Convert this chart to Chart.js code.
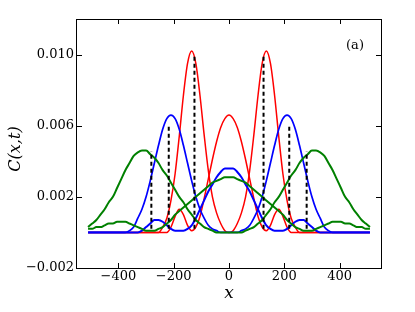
<!DOCTYPE html>
<html>
<head>
<meta charset="utf-8">
<script src="https://cdn.jsdelivr.net/npm/chart.js@4.4.1/dist/chart.umd.min.js"></script>
<style>
  html, body { margin: 0; padding: 0; background: #fff; }
</style>
</head>
<body>
<canvas id="chart" width="415" height="312"></canvas>
<script>
// positions along the chain
const xs = [-510, -495, -480, -465, -450, -435, -420, -405, -390, -375, -360, -345, -330, -315, -300, -285, -270, -255, -240, -225,
  -210, -195, -180, -165, -150, -135, -120, -105, -90, -75, -60, -45, -30, -15, 0, 15, 30, 45, 60, 75,
  90, 105, 120, 135, 150, 165, 180, 195, 210, 225, 240, 255, 270, 285, 300, 315, 330, 345, 360, 375,
  390, 405, 420, 435, 450, 465, 480, 495, 510];

// red: earliest time, two curves
const redPeaks = [0, 0, 0, 0, 0, 0, 0, 0, 0, 0, 0, 0, 0, 0, 0, 0, 0, 0,
  0.0003, 0.0008, 0.0018, 0.0033, 0.0054, 0.0077, 0.0095, 0.0102, 0.0095, 0.0077, 0.0055, 0.0035, 0.0020, 0.0011, 0.0005, 0.0001,
  0.0000,
  0.0001, 0.0005, 0.0011, 0.0020, 0.0035, 0.0055, 0.0077, 0.0095, 0.0102, 0.0095, 0.0077, 0.0054, 0.0033, 0.0018, 0.0008, 0.0003,
  0, 0, 0, 0, 0, 0, 0, 0, 0, 0, 0, 0, 0, 0, 0, 0, 0, 0];
const redCentre = [0, 0, 0, 0, 0, 0, 0, 0, 0, 0, 0, 0, 0, 0, 0, 0, 0, 0, 0, 0,
  0.0003, 0.0009, 0.0013, 0.0010, 0.0004, 0.0001, 0.0003, 0.0009, 0.0019, 0.0030, 0.0041, 0.0051, 0.0059, 0.0064,
  0.0066,
  0.0064, 0.0059, 0.0051, 0.0041, 0.0030, 0.0019, 0.0009, 0.0003, 0.0001, 0.0004, 0.0010, 0.0013, 0.0009, 0.0003,
  0, 0, 0, 0, 0, 0, 0, 0, 0, 0, 0, 0, 0, 0, 0, 0, 0, 0, 0, 0];

// blue: middle time
const bluePeaks = [0, 0, 0, 0, 0, 0, 0, 0, 0, 0,
  0.0001, 0.0003, 0.0008, 0.0013, 0.0020, 0.0029, 0.0039, 0.0049, 0.0058, 0.0064, 0.0066, 0.0064, 0.0058, 0.0049, 0.0039, 0.0029, 0.0020, 0.0013, 0.0008, 0.0004, 0.0002, 0.0001,
  0, 0, 0, 0, 0,
  0.0001, 0.0002, 0.0004, 0.0008, 0.0013, 0.0020, 0.0029, 0.0039, 0.0049, 0.0058, 0.0064, 0.0066, 0.0064, 0.0058, 0.0049, 0.0039, 0.0029, 0.0020, 0.0013, 0.0008, 0.0003, 0.0001,
  0, 0, 0, 0, 0, 0, 0, 0, 0, 0];
const blueCentre = [0, 0, 0, 0, 0, 0, 0, 0, 0, 0, 0, 0, 0,
  0.0001, 0.0003, 0.0005, 0.0007, 0.0007, 0.0006, 0.0004, 0.0002, 0.0001, 0.0001, 0.0001, 0.0002, 0.0004, 0.0008, 0.0013, 0.0018, 0.0023, 0.0027, 0.0031, 0.0034, 0.0036,
  0.0036,
  0.0036, 0.0034, 0.0031, 0.0027, 0.0023, 0.0018, 0.0013, 0.0008, 0.0004, 0.0002, 0.0001, 0.0001, 0.0001, 0.0002, 0.0004, 0.0006, 0.0007, 0.0007, 0.0005, 0.0003, 0.0001,
  0, 0, 0, 0, 0, 0, 0, 0, 0, 0, 0, 0, 0];

// green: latest time
const greenPeaks = [0.0003, 0.0005, 0.0007, 0.0010, 0.0013, 0.0017, 0.0020, 0.0025, 0.0030, 0.0035, 0.0039, 0.0043, 0.0045, 0.0046, 0.0046,
  0.0044, 0.0042, 0.0039, 0.0035, 0.0032, 0.0028, 0.0024, 0.0020, 0.0017, 0.0013, 0.0010, 0.0007, 0.0005, 0.0003, 0.0002, 0.0001,
  0, 0, 0, 0, 0, 0, 0,
  0.0001, 0.0002, 0.0003, 0.0005, 0.0007, 0.0010, 0.0013, 0.0017, 0.0020, 0.0024, 0.0028, 0.0032, 0.0035, 0.0039, 0.0042, 0.0044,
  0.0046, 0.0046, 0.0045, 0.0043, 0.0039, 0.0035, 0.0030, 0.0025, 0.0020, 0.0017, 0.0013, 0.0010, 0.0007, 0.0005, 0.0003];
const greenCentre = [0.0002, 0.0002, 0.0003, 0.0003, 0.0004, 0.0005, 0.0005, 0.0006, 0.0006, 0.0006, 0.0005, 0.0004, 0.0003, 0.0002, 0.0001,
  0.0001, 0.0001, 0.0002, 0.0003, 0.0005, 0.0007, 0.0010, 0.0012, 0.0014, 0.0016, 0.0018, 0.0020, 0.0022, 0.0024, 0.0026, 0.0028, 0.0029, 0.0030, 0.0031,
  0.0031,
  0.0031, 0.0030, 0.0029, 0.0028, 0.0026, 0.0024, 0.0022, 0.0020, 0.0018, 0.0016, 0.0014, 0.0012, 0.0010, 0.0007, 0.0005, 0.0003, 0.0002, 0.0001, 0.0001,
  0.0001, 0.0002, 0.0003, 0.0004, 0.0005, 0.0006, 0.0006, 0.0006, 0.0005, 0.0005, 0.0004, 0.0003, 0.0003, 0.0002, 0.0002];

// light-cone fronts (dashed)
const frontX = [-281, -218, -125, 125, 218, 281];
const frontTop = [0.00455, 0.0061, 0.0100, 0.0100, 0.0061, 0.00455];
const frontBottom = 0.0002;

const xTicks = [-400, -200, 0, 200, 400];
const yTicks = [-0.002, 0.002, 0.006, 0.010];

const serif = "'DejaVu Serif', serif";
const minus = s => s.replace('-', '\u2212');

function curve(ys, color, width) {
  return {
    data: xs.map((x, i) => ({ x: x, y: ys[i] })),
    borderColor: color,
    borderWidth: width,
    pointRadius: 0,
    showLine: true,
    fill: false,
    cubicInterpolationMode: 'monotone'
  };
}

const datasets = [];
frontX.forEach((fx, i) => {
  datasets.push({
    data: [{ x: fx, y: frontBottom }, { x: fx, y: frontTop[i] }],
    borderColor: '#000',
    borderWidth: 2,
    borderDash: [4, 3],
    pointRadius: 0,
    showLine: true
  });
});
datasets.push(curve(greenPeaks, '#008000', 2));
datasets.push(curve(greenCentre, '#008000', 2));
datasets.push(curve(bluePeaks, '#0000ff', 1.7));
datasets.push(curve(blueCentre, '#0000ff', 2));
datasets.push(curve(redPeaks, '#ff0000', 1.5));
datasets.push(curve(redCentre, '#ff0000', 1.5));

const frame = {
  id: 'frame',
  afterDraw(chart) {
    const { ctx, chartArea: a, scales } = chart;
    ctx.save();
    ctx.strokeStyle = '#000';
    ctx.lineWidth = 1;
    ctx.strokeRect(a.left - 0.5, a.top + 0.5, a.right - a.left + 1, a.bottom - a.top);
    ctx.beginPath();
    xTicks.forEach(v => {
      const px = Math.round(scales.x.getPixelForValue(v)) + 0.5;
      ctx.moveTo(px, a.bottom); ctx.lineTo(px, a.bottom - 5);
      ctx.moveTo(px, a.top); ctx.lineTo(px, a.top + 5);
    });
    yTicks.forEach(v => {
      const py = Math.round(scales.y.getPixelForValue(v)) + 0.5;
      ctx.moveTo(a.left, py); ctx.lineTo(a.left + 5, py);
      ctx.moveTo(a.right, py); ctx.lineTo(a.right - 5, py);
    });
    ctx.stroke();

    ctx.fillStyle = '#000';
    ctx.textAlign = 'center';
    ctx.textBaseline = 'middle';
    ctx.font = 'italic 17px ' + serif;
    ctx.fillText('x', (a.left + a.right) / 2, 294);
    ctx.save();
    ctx.translate(16, 149);
    ctx.rotate(-Math.PI / 2);
    ctx.font = 'italic 16px ' + serif;
    ctx.fillText('C(x,t)', 0, 0);
    ctx.restore();
    ctx.font = '13px ' + serif;
    ctx.fillText('(a)', 355, 46);
    ctx.restore();
  }
};

new Chart(document.getElementById('chart'), {
  type: 'scatter',
  data: { datasets: datasets },
  options: {
    responsive: false,
    animation: false,
    devicePixelRatio: 1,
    layout: { padding: { left: 0, top: 19, right: 34, bottom: 0 } },
    plugins: { legend: { display: false }, tooltip: { enabled: false } },
    scales: {
      x: {
        type: 'linear',
        min: -550,
        max: 550,
        afterBuildTicks: s => { s.ticks = xTicks.map(v => ({ value: v })); },
        afterFit: s => { s.height = 44; },
        grid: { display: false, drawTicks: false },
        border: { display: false },
        ticks: {
          autoSkip: false,
          maxRotation: 0,
          padding: 1,
          color: '#000',
          font: { family: serif, size: 13 },
          callback: v => minus(String(v))
        }
      },
      y: {
        type: 'linear',
        min: -0.002,
        max: 0.012,
        afterBuildTicks: s => { s.ticks = yTicks.map(v => ({ value: v })); },
        afterFit: s => { s.width = 77; },
        grid: { display: false, drawTicks: false },
        border: { display: false },
        ticks: {
          autoSkip: false,
          padding: 3,
          color: '#000',
          font: { family: serif, size: 13 },
          callback: v => minus(v.toFixed(3))
        }
      }
    }
  },
  plugins: [frame]
});
</script>
</body>
</html>
